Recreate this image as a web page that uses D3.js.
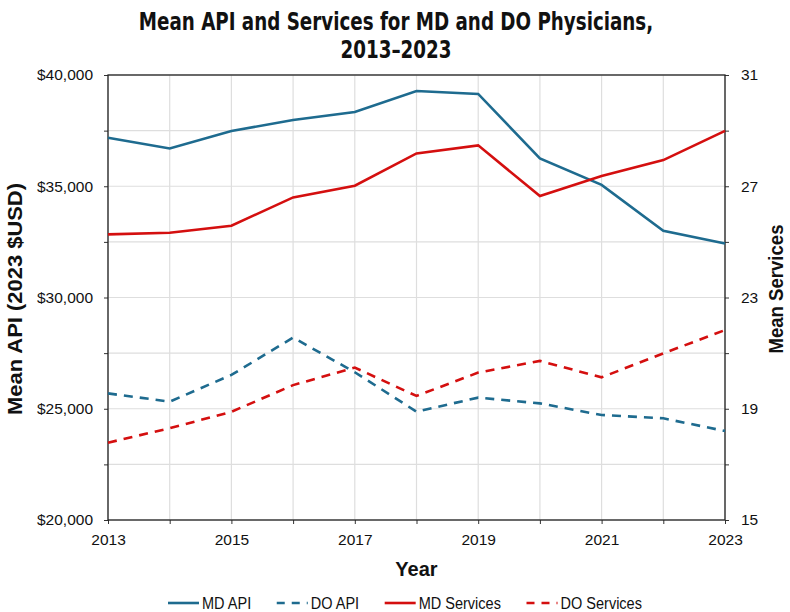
<!DOCTYPE html>
<html>
<head>
<meta charset="utf-8">
<script src="https://cdn.jsdelivr.net/npm/d3@7"></script>
<style>
  body { margin: 0; background: #fff; }
  svg { display: block; }
</style>
</head>
<body>
<svg id="chart" width="790" height="612"></svg>
<script>
const years = [2013, 2014, 2015, 2016, 2017, 2018, 2019, 2020, 2021, 2022, 2023];
const mdApi = [37180, 36700, 37480, 37980, 38340, 39280, 39150, 36250, 35060, 33000, 32430];
const doApi = [25690, 25320, 26520, 28200, 26640, 24870, 25500, 25240, 24720, 24570, 24000];
const mdServices = [25.27, 25.33, 25.58, 26.60, 27.02, 28.18, 28.47, 26.65, 27.37, 27.94, 28.99];
const doServices = [17.78, 18.30, 18.89, 19.85, 20.48, 19.46, 20.30, 20.72, 20.13, 20.99, 21.83];
const xTickLabels = [2013, 2015, 2017, 2019, 2021, 2023];
const leftTicks = [20000, 25000, 30000, 35000, 40000];
const rightTicks = [15, 19, 23, 27, 31];
const seriesNames = ["MD API", "DO API", "MD Services", "DO Services"];

const blue = "#1e6b8f", red = "#d40f0f";
const svg = d3.select("#chart");
const m = { left: 108, right: 725, top: 75, bottom: 520 };

const x = d3.scaleLinear().domain([2013, 2023]).range([m.left, m.right]);
const yL = d3.scaleLinear().domain([20000, 40000]).range([m.bottom, m.top]);
const yR = d3.scaleLinear().domain([15, 31]).range([m.bottom, m.top]);

const tickFont = "'Liberation Sans',Arial,sans-serif";
const boldFont = "'Liberation Sans',Arial,sans-serif";

// gridlines
const g = svg.append("g");
g.selectAll(".vg").data(years).join("line")
  .attr("x1", d => x(d)).attr("x2", d => x(d))
  .attr("y1", m.top).attr("y2", m.bottom)
  .attr("stroke", "#dedede").attr("stroke-width", 1.2);
const hg = d3.range(20000, 40001, 2500);
g.selectAll(".hg").data(hg).join("line")
  .attr("x1", m.left).attr("x2", m.right)
  .attr("y1", d => yL(d)).attr("y2", d => yL(d))
  .attr("stroke", "#dedede").attr("stroke-width", 1.2);

// axes
const axL = d3.axisLeft(yL).tickValues(hg).tickSize(4)
  .tickFormat(d => leftTicks.includes(d) ? "$" + d3.format(",")(d) : "");
const axR = d3.axisRight(yR).tickValues(d3.range(15, 31.01, 2)).tickSize(4)
  .tickFormat(d => rightTicks.includes(d) ? d : "");
const axB = d3.axisBottom(x).tickValues(years).tickSize(4)
  .tickFormat(d => xTickLabels.includes(d) ? d : "");

function styleAxis(sel) {
  sel.select(".domain").remove();
  sel.selectAll(".tick line").attr("stroke", "#333");
  sel.selectAll("text").attr("font-family", tickFont).attr("font-size", 15.5).attr("fill", "#111");
}
svg.append("g").attr("transform", `translate(${m.left},0)`).call(axL).call(styleAxis)
  .selectAll("text").attr("x", -15);
svg.append("g").attr("transform", `translate(${m.right},0)`).call(axR).call(styleAxis)
  .selectAll("text").attr("x", 16);
svg.append("g").attr("transform", `translate(0,${m.bottom})`).call(axB).call(styleAxis)
  .selectAll("text").attr("y", 14);

// frame
svg.append("rect").attr("x", m.left).attr("y", m.top)
  .attr("width", m.right - m.left).attr("height", m.bottom - m.top)
  .attr("fill", "none").attr("stroke", "#222").attr("stroke-width", 1.3);

// lines
const lineL = d3.line().x((d, i) => x(years[i])).y(d => yL(d));
const lineR = d3.line().x((d, i) => x(years[i])).y(d => yR(d));
const series = [
  { vals: mdApi, line: lineL, color: blue, dash: null },
  { vals: doApi, line: lineL, color: blue, dash: "9,7" },
  { vals: mdServices, line: lineR, color: red, dash: null },
  { vals: doServices, line: lineR, color: red, dash: "9,7" }
];
series.forEach(s => {
  svg.append("path").attr("d", s.line(s.vals))
    .attr("fill", "none").attr("stroke", s.color).attr("stroke-width", 2.6)
    .attr("stroke-dasharray", s.dash);
});

// title
const title = svg.append("text").attr("text-anchor", "middle")
  .attr("transform", "translate(396,0) scale(0.83,1)")
  .attr("font-family", "'DejaVu Sans Condensed','DejaVu Sans',sans-serif")
  .attr("font-weight", "bold").attr("font-size", 24.5).attr("fill", "#111");
title.append("tspan").attr("x", 0).attr("y", 30).text("Mean API and Services for MD and DO Physicians,");
title.append("tspan").attr("x", 0).attr("y", 58).text("2013–2023");

// axis titles
svg.append("text").attr("transform", `translate(22,299) rotate(-90)`)
  .attr("text-anchor", "middle").attr("font-family", boldFont)
  .attr("font-weight", "bold").attr("font-size", 20.5).attr("fill", "#111")
  .attr("textLength", 232).attr("lengthAdjust", "spacingAndGlyphs")
  .text("Mean API (2023 $USD)");
svg.append("text").attr("transform", `translate(783,289) rotate(-90)`)
  .attr("text-anchor", "middle").attr("font-family", boldFont)
  .attr("font-weight", "bold").attr("font-size", 19.5).attr("fill", "#111")
  .attr("textLength", 129).attr("lengthAdjust", "spacingAndGlyphs")
  .text("Mean Services");
svg.append("text").attr("x", (m.left + m.right) / 2).attr("y", 576)
  .attr("text-anchor", "middle").attr("font-family", boldFont)
  .attr("font-weight", "bold").attr("font-size", 20).attr("fill", "#111")
  .text("Year");

// legend: laid out sequentially from x=168 to x=642
const legStart = 168, legEnd = 642, lineLen = 31, gap = 3, sx = 0.88;
const leg = svg.append("g");
const items = seriesNames.map((name, i) => {
  const grp = leg.append("g");
  const t = grp.append("text").attr("x", 0).attr("y", 0)
    .attr("font-family", tickFont).attr("font-size", 16.5).attr("fill", "#111")
    .text(name);
  const w = t.node().getComputedTextLength() * sx;
  return { grp, t, w, s: series[i] };
});
const total = items.reduce((a, it) => a + lineLen + gap + it.w, 0);
const spacing = (legEnd - legStart - total) / (items.length - 1);
let cx = legStart;
items.forEach(it => {
  it.grp.append("line").attr("x1", cx).attr("x2", cx + lineLen)
    .attr("y1", 603).attr("y2", 603)
    .attr("stroke", it.s.color).attr("stroke-width", 2.6)
    .attr("stroke-dasharray", it.s.dash ? "8,7" : null);
  it.t.attr("transform", `translate(${cx + lineLen + gap},609) scale(${sx},1)`);
  cx += lineLen + gap + it.w + spacing;
});
</script>
</body>
</html>
